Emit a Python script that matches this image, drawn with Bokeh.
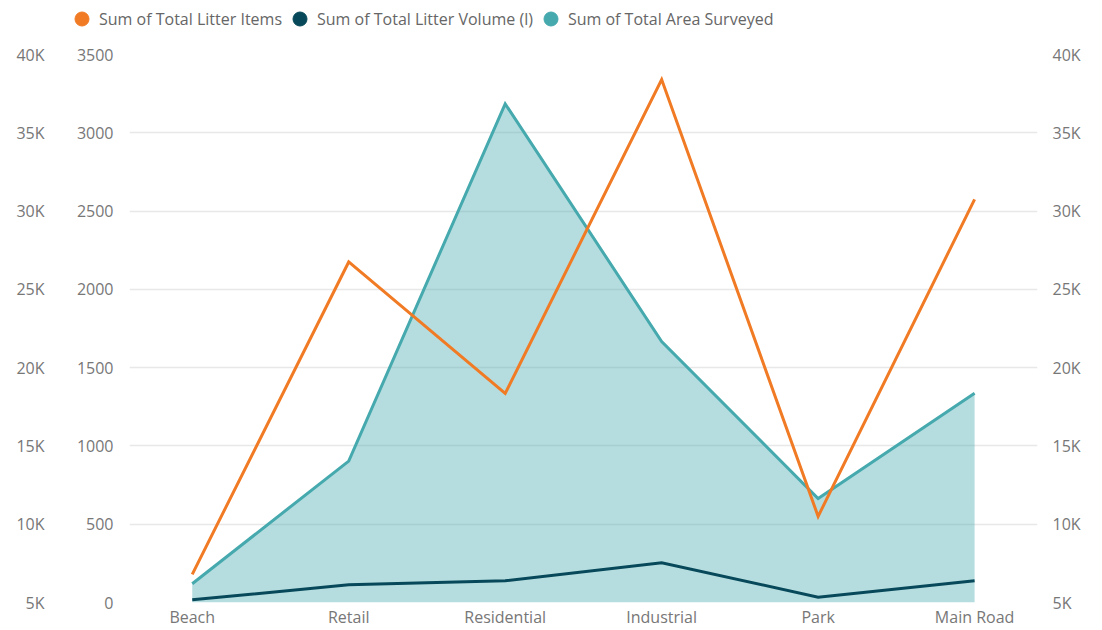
from bokeh.plotting import figure
from bokeh.layouts import column
from bokeh.models import Range1d, LinearAxis, FixedTicker, Legend, LegendItem
from bokeh.embed import file_html
from bokeh.resources import INLINE

# ---- data ----
categories = ["Beach", "Retail", "Residential", "Industrial", "Park", "Main Road"]
litter_items = [180, 2175, 1335, 3340, 550, 2575]
litter_volume = [17, 113, 139, 254, 34, 139]
area_surveyed = [6200, 14030, 36850, 21670, 11640, 18370]

count_ticks = [0, 500, 1000, 1500, 2000, 2500, 3000, 3500]
area_ticks = [5000, 10000, 15000, 20000, 25000, 30000, 35000, 40000]
area_tick_labels = ["5K", "10K", "15K", "20K", "25K", "30K", "35K", "40K"]

series_names = ["Sum of Total Litter Items", "Sum of Total Litter Volume (l)", "Sum of Total Area Surveyed"]

# ---- styles / layout ----
ORANGE = "#F17B25"
DARK = "#07495A"
TEAL = "#45A9AE"
LABEL = "#777777"
FONT = "Open Sans"
W = 1102
LEG_H = 36

x = list(range(len(categories)))
c_lo, c_hi = count_ticks[0], count_ticks[-1]
a_lo, a_hi = area_ticks[0], area_ticks[-1]

# ---------------- legend strip ----------------
lg = figure(width=W, height=LEG_H, output_backend="svg", toolbar_location=None,
            x_range=Range1d(0, 1), y_range=Range1d(0, 1),
            x_axis_type=None, y_axis_type=None, frame_align=False,
            min_border_left=0, min_border_right=0, min_border_top=0, min_border_bottom=0)
lg.outline_line_color = None
lg.xgrid.visible = False
lg.ygrid.visible = False

dummies = []
for c in (ORANGE, DARK, TEAL):
    dummies.append(lg.scatter(x=[float("nan")], y=[float("nan")], marker="circle",
                              fill_color=c, line_color=c, size=14))

legend = Legend(items=[LegendItem(label=n, renderers=[r]) for n, r in zip(series_names, dummies)],
                orientation="horizontal", location=(64, 0),
                glyph_width=35, glyph_height=35, label_standoff=0, spacing=0,
                padding=0, margin=0, border_line_color=None, background_fill_alpha=0,
                label_text_font=FONT, label_text_font_size="16px", label_text_color="#666666")
lg.add_layout(legend)

# ---------------- main chart ----------------
p = figure(width=W, height=630 - LEG_H, output_backend="svg", toolbar_location=None,
           x_range=Range1d(-0.401, 5.402),
           y_range=Range1d(c_lo, c_hi), frame_align=False,
           min_border_left=129, min_border_right=65,
           min_border_top=54 - LEG_H, min_border_bottom=28)
p.extra_y_ranges = {"area": Range1d(a_lo, a_hi)}
p.outline_line_color = None


def style(ax, standoff):
    ax.axis_line_color = None
    ax.major_tick_line_color = None
    ax.minor_tick_line_color = None
    ax.major_tick_out = 0
    ax.major_tick_in = 0
    ax.minor_tick_out = 0
    ax.minor_tick_in = 0
    ax.major_label_standoff = standoff
    ax.major_label_text_font = FONT
    ax.major_label_text_font_size = "16px"
    ax.major_label_text_color = LABEL


yax = p.yaxis[0]
yax.ticker = FixedTicker(ticks=count_ticks)
style(yax, 16)

area_labels = {t: l for t, l in zip(area_ticks, area_tick_labels)}
ax_outer = LinearAxis(y_range_name="area", ticker=FixedTicker(ticks=area_ticks),
                      major_label_overrides=area_labels)
style(ax_outer, 29)
p.add_layout(ax_outer, "left")

ax_right = LinearAxis(y_range_name="area", ticker=FixedTicker(ticks=area_ticks),
                      major_label_overrides=area_labels)
style(ax_right, 15)
p.add_layout(ax_right, "right")

xax = p.xaxis[0]
xax.ticker = FixedTicker(ticks=x)
xax.major_label_overrides = {i: c for i, c in zip(x, categories)}
style(xax, 3)

p.xgrid.grid_line_color = None
p.ygrid.ticker = FixedTicker(ticks=count_ticks)
p.ygrid.grid_line_color = "#E8E8E8"
p.ygrid.grid_line_width = 1.5

p.varea(x=x, y1=a_lo, y2=area_surveyed, y_range_name="area",
        fill_color=TEAL, fill_alpha=0.4)
p.line(x, area_surveyed, y_range_name="area", line_color=TEAL, line_width=3, line_join="miter")
p.line(x, litter_volume, line_color=DARK, line_width=3, line_join="miter")
p.line(x, litter_items, line_color=ORANGE, line_width=3, line_join="miter")

layout = column(lg, p, spacing=0)
open("out.html", "w").write(file_html(layout, INLINE))
